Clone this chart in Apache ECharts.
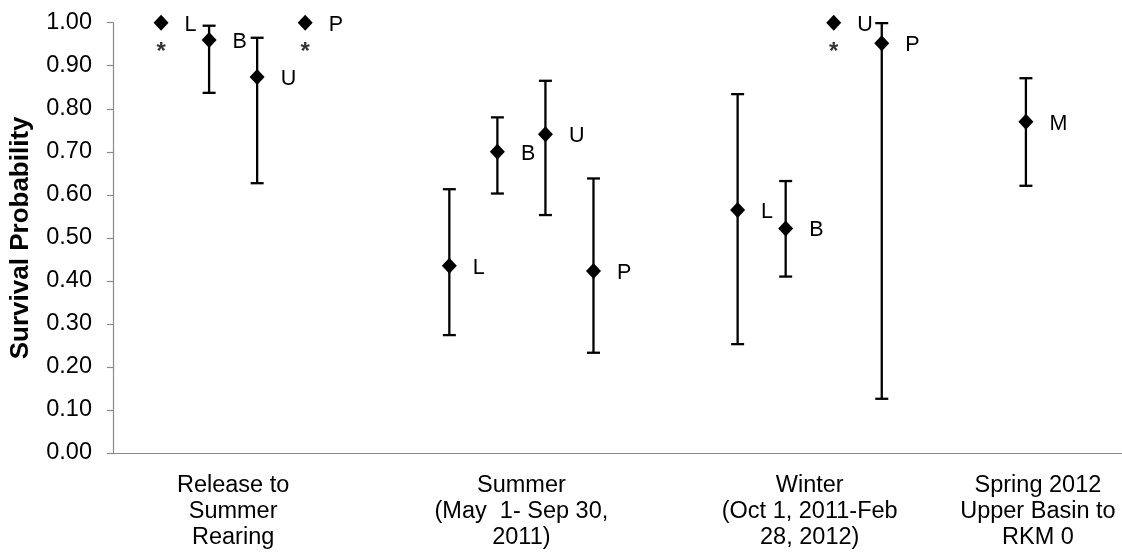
<!DOCTYPE html>
<html>
<head>
<meta charset="utf-8">
<script src="https://cdn.jsdelivr.net/npm/echarts@6/dist/echarts.min.js"></script>
<style>
  html, body { margin: 0; padding: 0; background: #ffffff; }
  #chart { width: 1122px; height: 556px; }
</style>
</head>
<body>
<div id="chart"></div>
<script>
// Survival periods (x-axis groups)
const periods = [
  'Release to\nSummer\nRearing',
  'Summer\n(May  1- Sep 30,\n2011)',
  'Winter\n(Oct 1, 2011-Feb\n28, 2012)',
  'Spring 2012\nUpper Basin to\nRKM 0'
];

// Reach codes, one marker slot per code inside each period
const reachCodes = ['L', 'B', 'U', 'P', 'M'];
const reachSlot = [0, 1, 2, 3, 0];

// Survival estimates per reach, by period (null = not estimated)
const estL = [1.00, 0.435, 0.565, null];
const estB = [0.960, 0.700, 0.522, null];
const estU = [0.874, 0.741, 1.00, null];
const estP = [1.00, 0.423, 0.952, null];
const estM = [null, null, null, 0.770];

// Lower / upper confidence limits (null = no interval, marked with *)
const lowL = [null, 0.274, 0.253, null];
const highL = [null, 0.613, 0.834, null];
const lowB = [0.837, 0.603, 0.410, null];
const highB = [0.993, 0.780, 0.632, null];
const lowU = [0.627, 0.553, null, null];
const highU = [0.965, 0.865, null, null];
const lowP = [null, 0.233, 0.126, null];
const highP = [null, 0.638, 0.999, null];
const lowM = [null, null, null, 0.621];
const highM = [null, null, null, 0.871];

// Y-axis tick settings
const yMin = 0, yMax = 1, yStep = 0.1;

const estimates = [estL, estB, estU, estP, estM];
const lows = [lowL, lowB, lowU, lowP, lowM];
const highs = [highL, highB, highU, highP, highM];

// Each period occupies six slots along a numeric x scale
const SLOTS_PER_PERIOD = 6;
const FONT = "'Liberation Sans', Arial, sans-serif";

const points = [];
const bars = [];
const stars = [];
reachCodes.forEach((code, r) => {
  periods.forEach((p, g) => {
    const est = estimates[r][g];
    if (est == null) return;
    const x = g * SLOTS_PER_PERIOD + reachSlot[r];
    points.push({ value: [x, est], name: code });
    if (lows[r][g] != null) {
      bars.push([x, lows[r][g], highs[r][g]]);
    } else {
      stars.push({ value: [x, est], name: '*' });
    }
  });
});

// Tick positions of the period labels (last one kept inside the plot)
const periodLabelPos = [1.5, 7.5, 13.5, 18.25];

const chart = echarts.init(document.getElementById('chart'), null, { renderer: 'canvas' });

chart.setOption({
  animation: false,
  backgroundColor: '#ffffff',
  grid: { left: 112, right: 0, top: 22.7, bottom: 103, containLabel: false },
  xAxis: {
    type: 'value',
    min: -1,
    max: 20,
    splitLine: { show: false },
    axisTick: { show: false },
    axisLine: { show: true, onZero: false, lineStyle: { color: '#8a8a8a', width: 1.2 } },
    axisLabel: {
      customValues: periodLabelPos,
      formatter: function (v) {
        let best = 0;
        periodLabelPos.forEach((p, i) => { if (Math.abs(p - v) < Math.abs(periodLabelPos[best] - v)) best = i; });
        return periods[best];
      },
      color: '#000000',
      fontFamily: FONT,
      fontSize: 23.5,
      lineHeight: 26,
      margin: 20,
      align: 'center'
    }
  },
  yAxis: {
    type: 'value',
    min: yMin,
    max: yMax,
    interval: yStep,
    name: 'Survival Probability',
    nameLocation: 'middle',
    nameGap: 79,
    nameRotate: 90,
    nameTextStyle: { fontFamily: FONT, fontSize: 26, fontWeight: 'bold', color: '#000000' },
    splitLine: { show: false },
    axisLine: { show: true, onZero: false, lineStyle: { color: '#8a8a8a', width: 1.2 } },
    axisTick: { show: true, length: 6, lineStyle: { color: '#8a8a8a', width: 1.2 } },
    axisLabel: {
      formatter: function (v) { return v.toFixed(2); },
      color: '#000000',
      fontFamily: FONT,
      fontSize: 23.5,
      margin: 21
    }
  },
  series: [
    {
      // Confidence intervals
      type: 'custom',
      data: bars,
      z: 2,
      renderItem: function (params, api) {
        const top = api.coord([api.value(0), api.value(2)]);
        const bot = api.coord([api.value(0), api.value(1)]);
        const cap = 6.5;
        const style = { stroke: '#000000', lineWidth: 2.3 };
        return {
          type: 'group',
          children: [
            { type: 'line', shape: { x1: top[0], y1: top[1], x2: bot[0], y2: bot[1] }, style: style },
            { type: 'line', shape: { x1: top[0] - cap, y1: top[1], x2: top[0] + cap, y2: top[1] }, style: style },
            { type: 'line', shape: { x1: bot[0] - cap, y1: bot[1], x2: bot[0] + cap, y2: bot[1] }, style: style }
          ]
        };
      }
    },
    {
      // Survival estimates with reach code
      type: 'scatter',
      data: points,
      z: 3,
      symbol: 'diamond',
      symbolSize: [15, 16],
      itemStyle: { color: '#000000', opacity: 1 },
      label: {
        show: true,
        position: 'right',
        distance: 16,
        formatter: '{b}',
        color: '#000000',
        fontFamily: FONT,
        fontSize: 21.5,
        offset: [0, 2]
      }
    },
    {
      // Estimates without an interval
      type: 'scatter',
      data: stars,
      z: 3,
      symbol: 'circle',
      symbolSize: 1,
      itemStyle: { color: 'rgba(0,0,0,0)' },
      label: {
        show: true,
        position: 'inside',
        formatter: '{b}',
        color: '#000000',
        fontFamily: FONT,
        fontWeight: 'bold',
        fontSize: 24,
        offset: [0, 30]
      }
    }
  ]
});
</script>
</body>
</html>
